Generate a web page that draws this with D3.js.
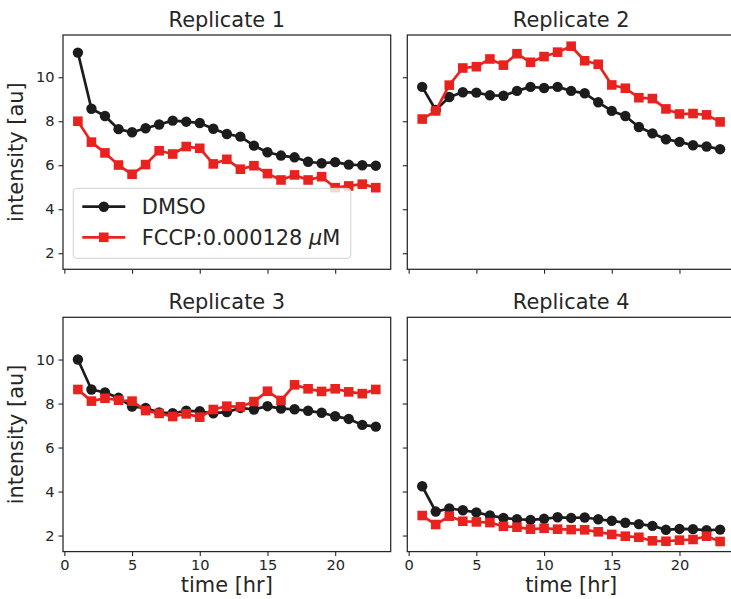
<!DOCTYPE html>
<html>
<head>
<meta charset="utf-8">
<script src="https://cdn.jsdelivr.net/npm/d3@7"></script>
<style>
  html, body { margin: 0; padding: 0; background: #fff; }
  svg { display: block; font-family: "DejaVu Sans", sans-serif; }
</style>
</head>
<body>
<svg id="chart" width="731" height="599"></svg>
<script>
// ---- data ----
const time = [1,2,3,4,5,6,7,8,9,10,11,12,13,14,15,16,17,18,19,20,21,22,23];
const replicates = ["Replicate 1", "Replicate 2", "Replicate 3", "Replicate 4"];
const seriesNames = ["DMSO", "FCCP:0.000128 \u03BCM"];

const dmso1 = [11.12,8.57,8.24,7.64,7.50,7.68,7.85,8.03,7.98,7.92,7.66,7.42,7.30,6.89,6.59,6.44,6.36,6.16,6.09,6.14,6.03,6.00,5.98];
const fccp1 = [8.00,7.05,6.56,6.01,5.59,6.03,6.66,6.51,6.85,6.77,6.06,6.27,5.82,5.98,5.62,5.33,5.56,5.33,5.48,4.98,5.06,5.14,4.98];

const dmso2 = [9.56,8.51,9.10,9.32,9.30,9.18,9.16,9.38,9.56,9.51,9.56,9.38,9.27,8.86,8.47,8.24,7.74,7.45,7.18,7.06,6.91,6.85,6.73];
const fccp2 = [8.10,8.47,9.64,10.42,10.48,10.83,10.55,11.07,10.68,10.94,11.14,11.41,10.75,10.59,9.65,9.50,9.07,9.03,8.56,8.33,8.35,8.29,7.97];

const dmso3 = [10.00,8.64,8.50,8.26,7.86,7.80,7.59,7.56,7.67,7.65,7.56,7.61,7.80,7.73,7.88,7.77,7.74,7.67,7.58,7.42,7.30,7.03,6.95];
const fccp3 = [8.64,8.11,8.24,8.15,8.11,7.68,7.55,7.41,7.53,7.38,7.73,7.88,7.85,8.09,8.56,8.14,8.85,8.67,8.55,8.67,8.53,8.45,8.64];

const dmso4 = [4.24,3.09,3.23,3.15,3.05,2.91,2.80,2.74,2.71,2.76,2.83,2.80,2.82,2.74,2.67,2.58,2.52,2.44,2.26,2.30,2.29,2.24,2.27];
const fccp4 = [2.91,2.50,2.88,2.65,2.62,2.59,2.42,2.38,2.29,2.33,2.29,2.27,2.26,2.17,2.05,1.97,1.92,1.76,1.74,1.79,1.82,1.97,1.73];

const xTicks = [0,5,10,15,20];
const yTicks = [2,4,6,8,10];

const panelData = [
  [dmso1, fccp1],
  [dmso2, fccp2],
  [dmso3, fccp3],
  [dmso4, fccp4]
];

// ---- layout ----
const colors = ["#1c1c1c", "#e8231f"];
const txt = "#262626";
const bigFont = 20.9, tickFont = 14.6;
const pw = 327.7, ph = 234.3;
const origins = [[63, 35], [407.3, 35], [63, 317.3], [407.3, 317.3]];

const svg = d3.select("#chart");

const x = d3.scaleLinear().domain([-0.1, 24.1]).range([0, pw]);
const y = d3.scaleLinear().domain([1.27, 11.92]).range([ph, 0]);

const line = d3.line().x((d, i) => x(time[i])).y(d => y(d));

panelData.forEach((series, p) => {
  const [ox, oy] = origins[p];
  const g = svg.append("g").attr("transform", `translate(${ox},${oy})`);
  const col = p % 2, row = Math.floor(p / 2);

  // title
  g.append("text").attr("x", pw / 2).attr("y", -8.3)
    .attr("text-anchor", "middle").attr("font-size", bigFont).attr("fill", txt)
    .text(replicates[p]);

  // axes
  const xa = d3.axisBottom(x).tickValues(xTicks).tickSize(4.5).tickPadding(4)
    .tickFormat(row === 1 ? d3.format("d") : () => "");
  const ya = d3.axisLeft(y).tickValues(yTicks).tickSize(4.5).tickPadding(4)
    .tickFormat(col === 0 ? d3.format("d") : () => "");

  const gx = g.append("g").attr("transform", `translate(0,${ph})`).call(xa);
  const gy = g.append("g").call(ya);
  [gx, gy].forEach(a => {
    a.select(".domain").remove();
    a.selectAll(".tick line").attr("stroke", txt).attr("stroke-width", 1.1);
    a.selectAll(".tick text").attr("fill", txt).attr("font-size", tickFont)
      .attr("font-family", "DejaVu Sans, sans-serif");
  });

  // series
  series.forEach((vals, s) => {
    g.append("path").datum(vals).attr("d", line)
      .attr("fill", "none").attr("stroke", colors[s]).attr("stroke-width", 2.7)
      .attr("stroke-linejoin", "round");
    if (s === 0) {
      g.selectAll(null).data(vals).enter().append("circle")
        .attr("cx", (d, i) => x(time[i])).attr("cy", d => y(d)).attr("r", 5.2)
        .attr("fill", colors[s]);
    } else {
      g.selectAll(null).data(vals).enter().append("rect")
        .attr("x", (d, i) => x(time[i]) - 4.8).attr("y", d => y(d) - 4.8)
        .attr("width", 9.6).attr("height", 9.6).attr("fill", colors[s]);
    }
  });

  // spines
  g.append("rect").attr("x", 0).attr("y", 0).attr("width", pw).attr("height", ph)
    .attr("fill", "none").attr("stroke", txt).attr("stroke-width", 1.25);

  // axis labels
  if (col === 0) {
    g.append("text").attr("transform", `translate(${22.8 - ox},${ph / 2}) rotate(-90)`)
      .attr("text-anchor", "middle").attr("font-size", bigFont).attr("fill", txt)
      .text("intensity [au]");
  }
  if (row === 1) {
    g.append("text").attr("x", pw / 2).attr("y", ph + 40.5)
      .attr("text-anchor", "middle").attr("font-size", bigFont).attr("fill", txt)
      .text("time [hr]");
  }

  // legend on first panel
  if (p === 0) {
    const lg = g.append("g").attr("transform", `translate(${73.3 - ox},${188.3 - oy})`);
    lg.append("rect").attr("width", 277.5).attr("height", 70).attr("rx", 3.5)
      .attr("fill", "#fff").attr("fill-opacity", 0.8)
      .attr("stroke", "#d0d0d0").attr("stroke-width", 1);
    const rowsY = [18.4, 49];
    seriesNames.forEach((name, s) => {
      const ly = rowsY[s];
      lg.append("line").attr("x1", 9).attr("x2", 52).attr("y1", ly).attr("y2", ly)
        .attr("stroke", colors[s]).attr("stroke-width", 2.7);
      if (s === 0) {
        lg.append("circle").attr("cx", 30.5).attr("cy", ly).attr("r", 5.2).attr("fill", colors[s]);
      } else {
        lg.append("rect").attr("x", 30.5 - 4.8).attr("y", ly - 4.8).attr("width", 9.6)
          .attr("height", 9.6).attr("fill", colors[s]);
      }
      const t = lg.append("text").attr("x", 68.5).attr("y", ly + 7.5)
        .attr("font-size", bigFont).attr("fill", txt);
      if (s === 0) {
        t.text(name);
      } else {
        t.append("tspan").text("FCCP:0.000128 ");
        t.append("tspan").attr("font-style", "italic").text("\u03BC");
        t.append("tspan").text("M");
      }
    });
  }
});
</script>
</body>
</html>
